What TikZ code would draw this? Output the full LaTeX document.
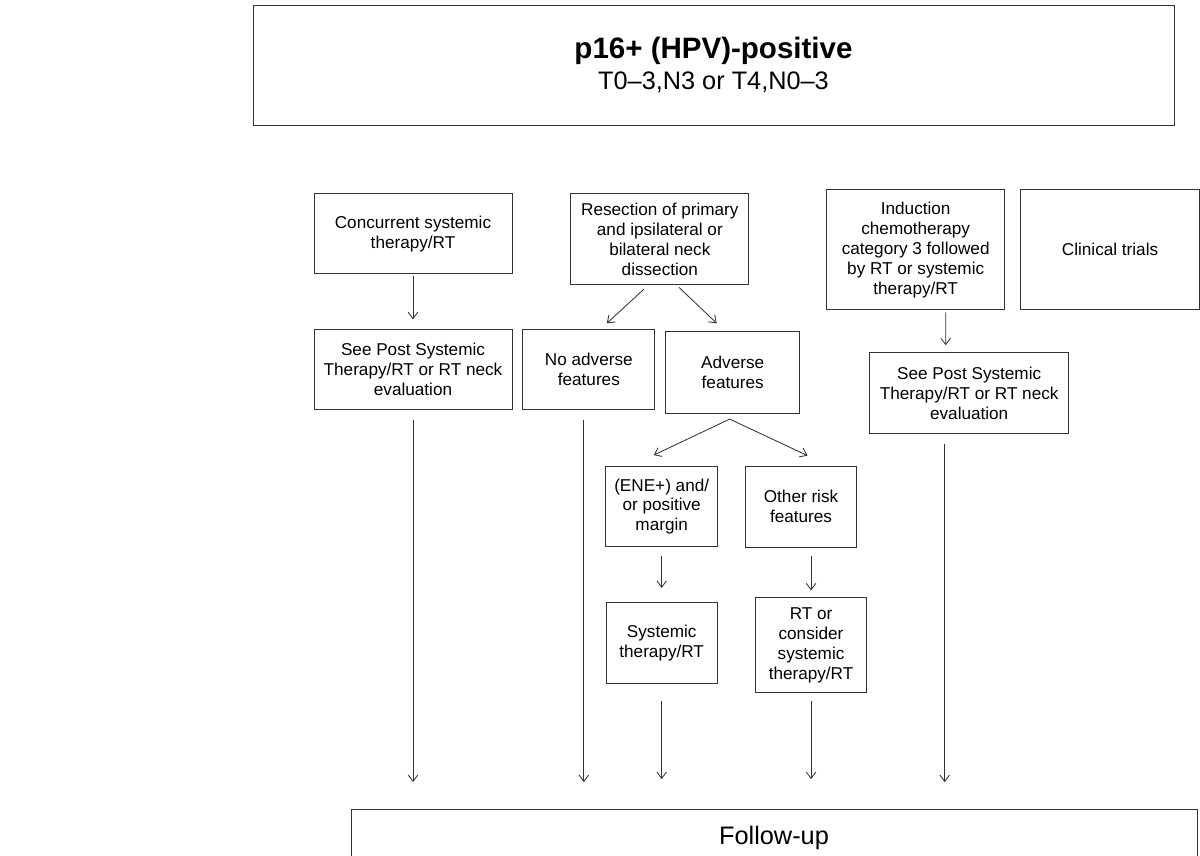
\documentclass[tikz,border=0pt]{standalone}
\usepackage{fontspec}
\setmainfont{Liberation Sans}
\usetikzlibrary{positioning,calc,arrows.meta}

\begin{document}
\begin{tikzpicture}[auto,node distance=1cm,
  box/.style={draw=black!80, line width=0.6pt, align=center, inner sep=2pt,
    font=\fontsize{12.2}{14.2}\selectfont},
  arr/.style={draw=black!80, line width=0.6pt, -{Straight Barb[length=1.6mm,width=2.4mm]}}]
  \useasboundingbox (0,0) rectangle (30,-21.4);
  \node[box, minimum width=23.025cm, minimum height=3cm, font=\fontsize{18}{22}\selectfont] (node1) at (17.8375,-1.625)
    {{\fontsize{21}{24}\selectfont\bfseries p16+ (HPV)-positive}\\T0–3,N3 or T4,N0–3};
  \node[box, minimum width=4.95cm, minimum height=2cm] (node2) [below right=1.7cm and 1.525cm of node1.south west] {Concurrent systemic\\therapy/RT};
  \node[box, minimum width=4.45cm, minimum height=2.275cm] (node3) [right=1.45cm of node2.north east, anchor=north west] {Resection of primary\\and ipsilateral or\\bilateral neck\\dissection};
  \node[box, minimum width=4.45cm, minimum height=3cm] (node4) [right=1.925cm of node3.north east, anchor=north west, yshift=0.1cm] {Induction\\chemotherapy\\category 3 followed\\by RT or systemic\\therapy/RT};
  \node[box, minimum width=4.475cm, minimum height=3cm] (node5) [right=0.375cm of node4] {Clinical trials};
  \node[box, minimum width=4.95cm, minimum height=2cm] (node6) [below=1.375cm of node2] {See Post Systemic\\Therapy/RT or RT neck\\evaluation};
  \node[box, minimum width=3.3cm, minimum height=2cm] (node7) [right=0.25cm of node6] {No adverse\\features};
  \node[box, minimum width=3.35cm, minimum height=2.05cm] (node8) [right=0.25cm of node7, yshift=-0.075cm] {Adverse\\features};
  \node[box, minimum width=4.975cm, minimum height=2.025cm] (node9) [below=1.05cm of node4, xshift=1.3375cm] {See Post Systemic\\Therapy/RT or RT neck\\evaluation};
  \node[box, minimum width=2.8cm, minimum height=2cm] (node10) [below=1.3cm of node8, xshift=-1.775cm] {(ENE+) and/\\or positive\\margin};
  \node[box, minimum width=2.775cm, minimum height=2.025cm] (node11) [right=0.675cm of node10] {Other risk\\features};
  \node[box, minimum width=2.775cm, minimum height=2.025cm] (node12) [below=1.375cm of node10] {Systemic\\therapy/RT};
  \node[box, minimum width=2.775cm, minimum height=2.375cm] (node13) [below=1.25cm of node11, xshift=0.25cm] {RT or\\consider\\systemic\\therapy/RT};
  \node[box, minimum width=21.15cm, minimum height=1.4cm, font=\fontsize{18}{22}\selectfont] (node14) [below right=9.975cm and 0.925cm of node6.south west] {Follow-up};

  \draw[arr, shorten <=0.05cm, shorten >=0.25cm] (node2) -- (node6);
  \draw[arr] ($(node3.south)+(-0.4,-0.1)$) -- ($(node7.north)+(0.45,0.15)$);
  \draw[arr] ($(node3.south)+(0.475,-0.05)$) -- ($(node8.north)+(-0.4,0.2)$);
  \draw[arr] ($(node8.south)+(-0.075,-0.125)$) -- ($(node10.north)+(-0.2,0.275)$);
  \draw[arr] ($(node8.south)+(-0.075,-0.125)$) -- ($(node11.north)+(0.1625,0.25)$);
  \draw[arr] ($(node4.south)+(0.75,-0.05)$) -- ($(node9.north)+(-0.5875,0.175)$);
  \draw[arr, shorten <=0.225cm, shorten >=0.35cm] (node10.south) -- (node10.south |- node12.north);
  \draw[arr, shorten <=0.225cm, shorten >=0.175cm] (node13.north |- node11.south) -- (node13.north);
  \draw[arr, shorten <=0.25cm, shorten >=0.675cm] (node6.south) -- (node6.south |- node14.north);
  \draw[arr, shorten <=0.25cm, shorten >=0.675cm] ($(node7.south)+(-0.125,0)$) -- ($(node7.south |- node14.north)+(-0.125,0)$);
  \draw[arr, shorten <=0.425cm, shorten >=0.75cm] (node12.south) -- (node12.south |- node14.north);
  \draw[arr, shorten <=0.2cm, shorten >=0.75cm] (node13.south) -- (node13.south |- node14.north);
  \draw[arr, shorten <=0.25cm, shorten >=0.675cm] ($(node9.south)+(-0.6125,0)$) -- ($(node9.south |- node14.north)+(-0.6125,0)$);
\end{tikzpicture}
\end{document}
